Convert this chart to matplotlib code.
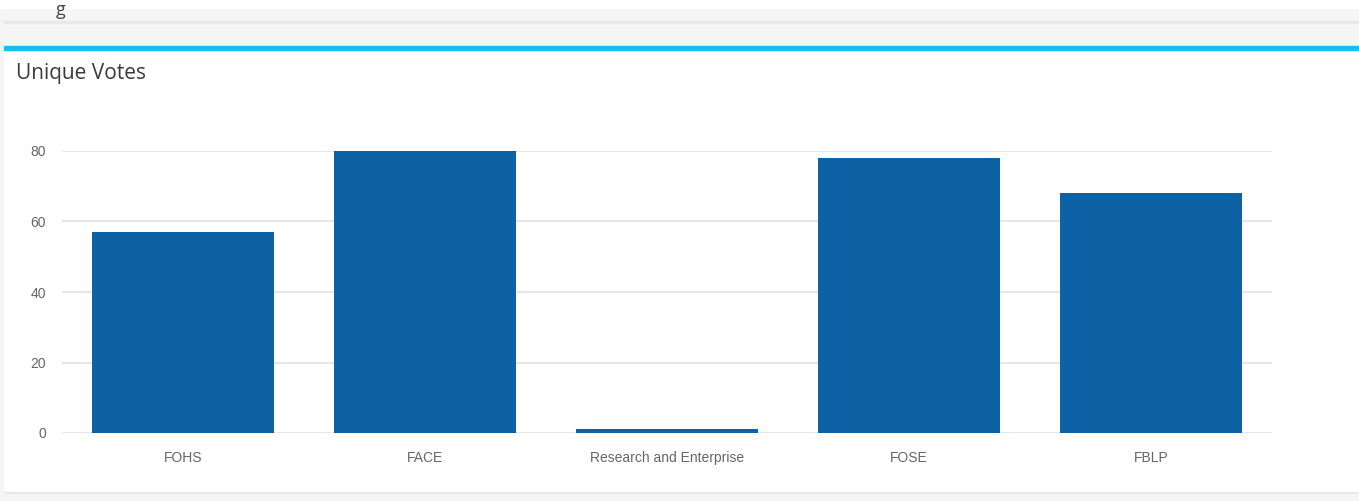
import matplotlib.pyplot as plt
from matplotlib.patches import Rectangle, FancyBboxPatch
import numpy as np

# chart data
categories = ['FOHS', 'FACE', 'Research and Enterprise', 'FOSE', 'FBLP']
votes = [57, 80, 1, 78, 68]
yticks = [0, 20, 40, 60, 80]

W, H = 1359, 501
fig = plt.figure(figsize=(W / 100, H / 100), dpi=100)
fig.patch.set_facecolor('#f5f5f5')

def px(x, y, w, h):
    # pixel box (top-left origin) -> figure fraction
    return (x / W, 1 - (y + h) / H, w / W, h / H)

# page background pieces
x0, y0, w0, h0 = px(0, 0, W, 8)
fig.add_artist(Rectangle((x0, y0), w0, h0, transform=fig.transFigure, color='white', zorder=0))
x0, y0, w0, h0 = px(4, 21, W, 1.5)
fig.add_artist(Rectangle((x0, y0), w0, h0, transform=fig.transFigure, color='#e8e8e8', zorder=0))
fig.text(56 / W, 1 - 1 / H, 'g', fontsize=13, color='#444444', family='Open Sans', va='top')

# card with shadow
x0, y0, w0, h0 = px(4, 49, W, 443)
fig.add_artist(FancyBboxPatch((x0 + 0.0005, y0 - 0.004), w0, h0, boxstyle='round,pad=0,rounding_size=0.004',
                              transform=fig.transFigure, facecolor='#e6e6e6', edgecolor='none', zorder=0))
fig.add_artist(FancyBboxPatch((x0, y0), w0, h0, boxstyle='round,pad=0,rounding_size=0.004',
                              transform=fig.transFigure, facecolor='white', edgecolor='none', zorder=0))
x0, y0, w0, h0 = px(4, 46, W, 3.5)
fig.add_artist(Rectangle((x0, y0), w0, h0, transform=fig.transFigure, color='#16c1ef', zorder=1))

fig.text(16 / W, 1 - 74 / H, 'Unique Votes', fontsize=15, color='#3a3a3a',
         family='Open Sans', va='center', ha='left')

ax = fig.add_axes((62 / W, 1 - 433 / H, (1272 - 62) / W, (433 - 151) / H))
ax.set_facecolor('none')
x = np.arange(len(categories))
ax.bar(x, votes, width=0.75, color='#0c62a4', zorder=3)
ax.set_xlim(-0.5, len(categories) - 0.5)
ax.set_ylim(0, 80)
ax.set_yticks(yticks)
ax.set_xticks(x)
ax.set_xticklabels(categories)
ax.grid(axis='y', color='#e3e3e3', linewidth=1.2, zorder=0)
for s in ax.spines.values():
    s.set_visible(False)
ax.tick_params(axis='both', length=0, labelsize=10, labelcolor='#666666')
ax.tick_params(axis='y', pad=11.5)
ax.tick_params(axis='x', pad=13)
for lab in ax.get_xticklabels() + ax.get_yticklabels():
    lab.set_family('Liberation Sans')

fig.savefig('out.png', dpi=100)
